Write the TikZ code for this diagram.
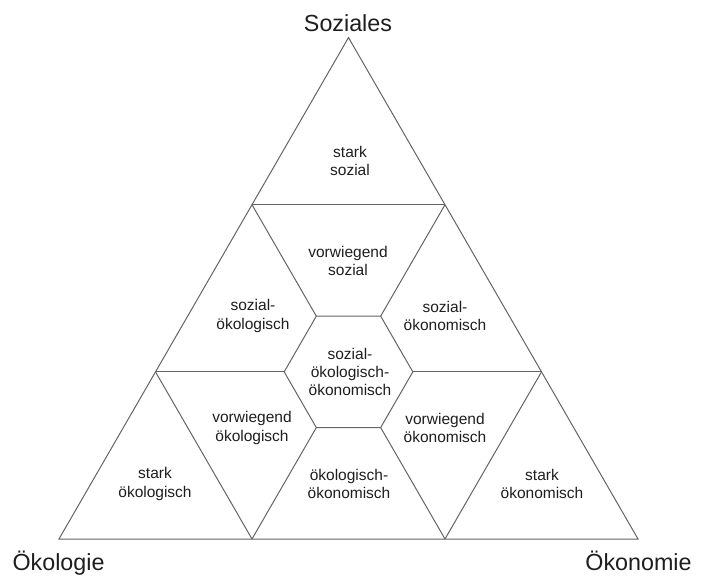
\documentclass[tikz,border=0pt]{standalone}
\usepackage{fontspec}
\setmainfont{Liberation Sans}
\usepackage{xcolor}
\definecolor{lgray}{RGB}{100,100,100}
\definecolor{tblack}{RGB}{30,30,30}

\begin{document}
\begin{tikzpicture}[x=1pt,y=1pt,
  edge/.style={color=lgray, line width=1pt, line join=miter},
  field/.style={align=center, color=tblack, inner sep=0pt, font=\fontsize{15.5}{18.3}\selectfont},
  corner/.style={anchor=base, color=tblack, inner sep=0pt, font=\fontsize{23.3}{28}\selectfont}]
\def\xo{59}
\def\yo{37}
\def\s{193}
\def\h{167.14}
\def\r{64.33}

\useasboundingbox (0,0) rectangle (704,576);

% corners of the big triangle
\coordinate (L) at (\xo,\yo);
\coordinate (R) at (\xo+3*\s,\yo);
\coordinate (A) at (\xo+1.5*\s,\yo+3*\h);

% points on the sides
\coordinate (b1) at (\xo+\s,\yo);
\coordinate (b2) at (\xo+2*\s,\yo);
\coordinate (l1) at (\xo+0.5*\s,\yo+\h);
\coordinate (l2) at (\xo+\s,\yo+2*\h);
\coordinate (r1) at (\xo+2.5*\s,\yo+\h);
\coordinate (r2) at (\xo+2*\s,\yo+2*\h);

% hexagon in the middle
\coordinate (C) at (\xo+1.5*\s,\yo+\h);
\foreach \k in {0,...,5}{
 \coordinate (h\k) at ([shift={(C)}] \k*60:\r);
}

\draw[edge] (L) -- (R) -- (A) -- cycle;
\draw[edge] (h0) -- (h1) -- (h2) -- (h3) -- (h4) -- (h5) -- cycle;
\foreach \p/\q in {l2/r2, l1/h3, h0/r1, l2/h2, r2/h1, l1/b1, r1/b2, h4/b1, h5/b2}
 \draw[edge] (\p) -- (\q);

% fields
\node[field] (starksoz) at (350,415) {stark\\sozial};
\node[field] (vorwsoz) at (348,315) {vorwiegend\\sozial};
\node[field] (sozoek) at (253,260) {sozial-\\ökologisch};
\node[field] (sozoekon) at (445,260) {sozial-\\ökonomisch};
\node[field] (mitte) at (350,204) {sozial-\\ökologisch-\\ökonomisch};
\node[field] (vorwoek) at (252,148) {vorwiegend\\ökologisch};
\node[field] (vorwoekon) at (445,148) {vorwiegend\\ökonomisch};
\node[field] (oekoekon) at (349,92) {ökologisch-\\ökonomisch};
\node[field] (starkoek) at (155,92) {stark\\ökologisch};
\node[field] (starkoekon) at (542,92) {stark\\ökonomisch};

% corners
\node[corner] (soz) at (348,544.3) {Soziales};
\node[corner] (oek) at (58.5,6) {Ökologie};
\node[corner] (oekon) at (638.5,6) {Ökonomie};
\end{tikzpicture}
\end{document}
